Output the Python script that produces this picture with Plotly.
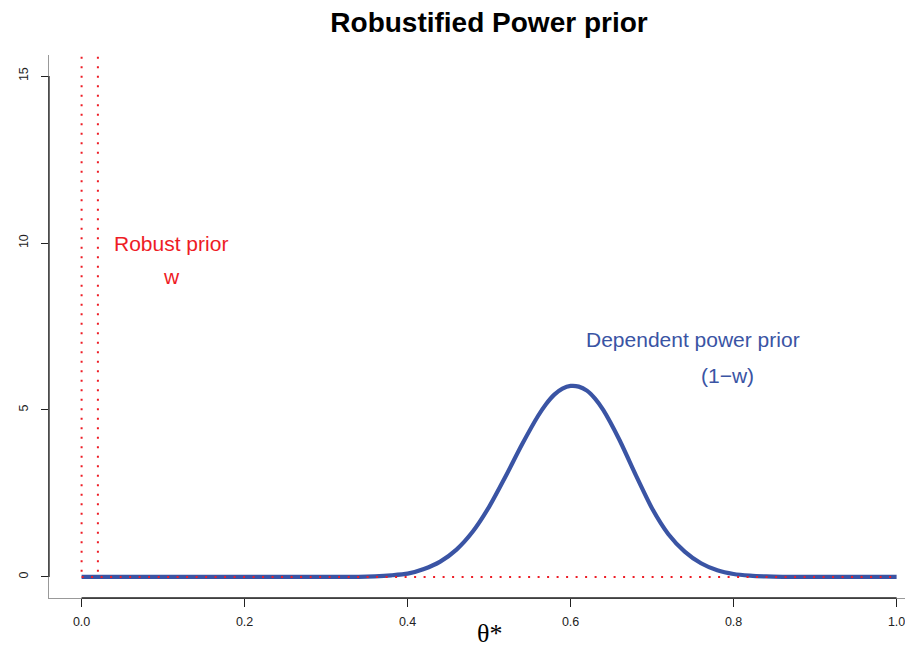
import plotly.graph_objects as go

# Dependent power prior density
theta_dep = [0.0, 0.20, 0.34, 0.36, 0.38, 0.40, 0.42, 0.44, 0.46, 0.48, 0.50,
             0.52, 0.54, 0.56, 0.57, 0.58, 0.59, 0.60, 0.61, 0.62, 0.63, 0.64,
             0.66, 0.68, 0.70, 0.72, 0.74, 0.76, 0.78, 0.80, 0.82, 0.84, 0.86, 1.0]
dens_dep = [0.0, 0.0, 0.005, 0.02, 0.05, 0.10, 0.24, 0.46, 0.82, 1.36, 2.10,
            3.00, 3.95, 4.82, 5.18, 5.46, 5.64, 5.72, 5.70, 5.58, 5.34, 5.00,
            4.10, 3.05, 2.05, 1.28, 0.76, 0.41, 0.20, 0.09, 0.04, 0.015, 0.005, 0.0]

# Robust prior (near point mass at 0: two off-scale spikes, zero elsewhere)
theta_rob = [0.0, 0.0, None, 0.02, 0.02, None, 0.0, 1.0]
dens_rob = [17.0, 0.0, None, 17.0, 0.0, None, 0.0, 0.0]

x_ticks = [0.0, 0.2, 0.4, 0.6, 0.8, 1.0]
x_ticklabels = ["0.0", "0.2", "0.4", "0.6", "0.8", "1.0"]
y_ticks = [0, 5, 10, 15]

BLUE = "#3A54A4"
RED = "#EE1C25"

# the page body adds an 8px margin, so the figure is 8px smaller on each axis
W, H = 905, 654
OFF = 8

fig = go.Figure()
fig.add_trace(go.Scatter(x=theta_dep, y=dens_dep, mode="lines",
                         line=dict(color=BLUE, width=4.2, shape="spline", smoothing=0.6),
                         hoverinfo="skip", showlegend=False))
fig.add_trace(go.Scatter(x=theta_rob, y=dens_rob, mode="lines", connectgaps=False,
                         line=dict(color=RED, width=2, dash="2px,7.5px"),
                         hoverinfo="skip", showlegend=False))

ann_font = dict(family="Liberation Sans, Arial, sans-serif", size=21)
fig.add_annotation(x=0.11, y=10.0, text="Robust prior", showarrow=False,
                   font=dict(ann_font, color=RED))
fig.add_annotation(x=0.11, y=9.0, text="w", showarrow=False,
                   font=dict(ann_font, color=RED))
fig.add_annotation(x=0.75, y=7.1, text="Dependent power prior", showarrow=False,
                   font=dict(ann_font, color=BLUE))
fig.add_annotation(x=0.793, y=6.02, text="(1\u2212w)", showarrow=False,
                   font=dict(ann_font, color=BLUE))

# x-axis title
fig.add_annotation(xref="paper", yref="paper", x=(489 - 49) / 864, y=-(650 - 598) / 543,
                   text="\u03b8*", showarrow=False,
                   font=dict(family="Liberation Serif, serif", size=26, color="black"))

# dark axis lines spanning the tick range (R style)
fig.add_shape(type="line", xref="x", yref="paper", x0=0, x1=1, y0=0, y1=0,
              line=dict(color="#222222", width=1.3))
fig.add_shape(type="line", xref="paper", yref="y", x0=0, x1=0, y0=0, y1=15,
              line=dict(color="#222222", width=1.3))

tick_font = dict(family="Liberation Sans, Arial, sans-serif", size=12.5, color="#222222")

fig.update_layout(
    width=W, height=H,
    margin=dict(l=49 - OFF, r=0, t=55 - OFF, b=H - (598 - OFF), pad=0, autoexpand=False),
    paper_bgcolor="white", plot_bgcolor="white",
    title=dict(text="<b>Robustified Power prior</b>", x=(489 - OFF) / W, xref="container",
               xanchor="center", y=1 - (22 - OFF) / H, yref="container", yanchor="middle",
               font=dict(family="Liberation Sans, Arial, sans-serif", size=28, color="black"),
               automargin=False),
    xaxis=dict(range=[-0.04, -0.04 + 864 / 815], showgrid=False, zeroline=False,
               showline=True, linecolor="#999999", linewidth=1, automargin=False,
               ticks="outside", ticklen=8, tickcolor="#222222", tickwidth=1,
               tickvals=x_ticks, ticktext=x_ticklabels, tickfont=tick_font,
               ticklabelstandoff=4),
    yaxis=dict(range=[-0.63, 15.63], showgrid=False, zeroline=False,
               showline=True, linecolor="#999999", linewidth=1, automargin=False,
               ticks="outside", ticklen=7, tickcolor="#222222", tickwidth=1,
               tickvals=y_ticks, tickfont=tick_font, tickangle=-90,
               ticklabelstandoff=8),
)

fig.write_html("out.html")
